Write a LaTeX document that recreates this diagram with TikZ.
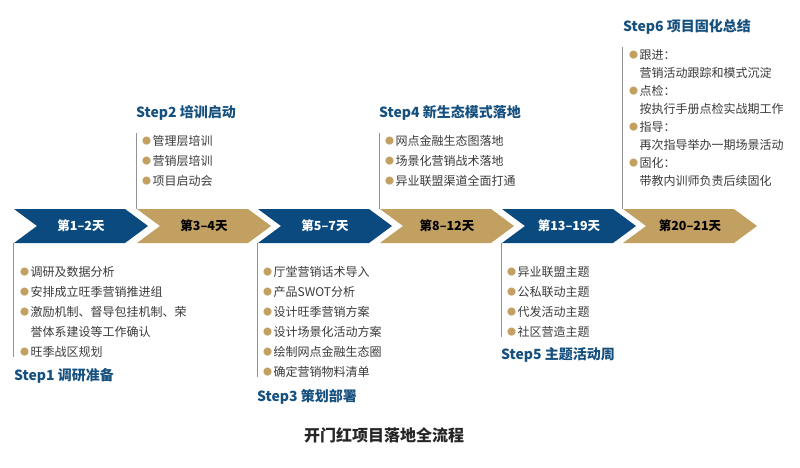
\documentclass[tikz,border=0pt]{standalone}
\usepackage{fontspec}
\setmainfont{Noto Sans CJK SC}
\usetikzlibrary{shapes.symbols}

\definecolor{navy}{HTML}{0B4A7E}
\definecolor{sand}{HTML}{C2A062}
\definecolor{ink}{HTML}{3A3A3A}
\definecolor{stepblue}{HTML}{16507F}

\newcommand{\gdot}{\raisebox{0.9pt}{\textcolor{sand}{\fontsize{9}{9}\selectfont ●}}\hspace{1.5pt}}
\newcommand{\gskip}{\hphantom{\gdot}}

\tikzset{
  day/.style={shape=signal, signal to=east, signal from=west, signal pointer angle=73,
    minimum width=134pt, minimum height=34pt, inner sep=0pt, font=\bfseries\fontsize{12.5}{14}\selectfont},
  dayblue/.style={day, fill=navy, text=white},
  daygold/.style={day, fill=sand, text=black},
  tasks/.style={anchor=north west, align=left, inner sep=0pt, text=ink, font=\fontsize{12}{20}\selectfont},
  steptitle/.style={anchor=west, inner sep=0pt, text=stepblue, font=\bfseries\fontsize{14}{16}\selectfont},
  stemline/.style={draw=gray!85, line width=1pt}
}

\begin{document}
\begin{tikzpicture}[x=1pt,y=-1pt]
    \useasboundingbox (0,0) rectangle (800,467);

    % timeline
    \node[dayblue] (d1) at (81,226) {第1--2天};
    \node[daygold] (d2) at (204,226) {第3--4天};
    \node[dayblue] (d3) at (325,226) {第5--7天};
    \node[daygold] (d4) at (447,226) {第8--12天};
    \node[dayblue] (d5) at (569,226) {第13--19天};
    \node[daygold] (d6) at (690,226) {第20--21天};

    % steps below
    \node[tasks] (l1) at (20,266) {\gdot 调研及数据分析\\ \gdot 安排成立旺季营销推进组\\ \gdot 激励机制、督导包挂机制、荣\\ \gskip 誉体系建设等工作确认\\ \gdot 旺季战区规划};
    \node[steptitle] (t1) at (14,376) {Step1 调研准备};

    \node[tasks] (l3) at (263,266) {\gdot 厅堂营销话术导入\\ \gdot 产品SWOT分析\\ \gdot 设计旺季营销方案\\ \gdot 设计场景化活动方案\\ \gdot 绘制网点金融生态圈\\ \gdot 确定营销物料清单};
    \node[steptitle] (t3) at (257,397) {Step3 策划部署};

    \node[tasks] (l5) at (507,266) {\gdot 异业联盟主题\\ \gdot 公私联动主题\\ \gdot 代发活动主题\\ \gdot 社区营造主题};
    \node[steptitle] (t5) at (501,355) {Step5 主题活动周};

    % steps above
    \node[tasks] (l2) at (142,135) {\gdot 管理层培训\\ \gdot 营销层培训\\ \gdot 项目启动会};
    \node[steptitle] (t2) at (136,113) {Step2 培训启动};

    \node[tasks] (l4) at (385,135) {\gdot 网点金融生态图落地\\ \gdot 场景化营销战术落地\\ \gdot 异业联盟渠道全面打通};
    \node[steptitle] (t4) at (379,113) {Step4 新生态模式落地};

    \node[tasks, font=\fontsize{12}{18}\selectfont] (l6) at (629,49) {\gdot 跟进：\\ \gskip 营销活动跟踪和模式沉淀\\ \gdot 点检：\\ \gskip 按执行手册点检实战期工作\\ \gdot 指导：\\ \gskip 再次指导举办一期场景活动\\ \gdot 固化：\\ \gskip 带教内训师负责后续固化};
    \node[steptitle] (t6) at (623,27) {Step6 项目固化总结};

    \draw[stemline] (d1.south west) -- (d1.south west |- l1.south);
    \draw[stemline] (d3.south west) -- (d3.south west |- l3.south);
    \draw[stemline] (d5.south west) -- (d5.south west |- l5.south);
    \draw[stemline] (d2.north west) -- ([yshift=2pt]d2.north west |- l2.north);
    \draw[stemline] (d4.north west) -- ([yshift=2pt]d4.north west |- l4.north);
    \draw[stemline] (d6.north west) -- ([yshift=2pt]d6.north west |- l6.north);

    \node[font=\bfseries\fontsize{16}{18}\selectfont, text=black!85] (cap) at (384,435) {开门红项目落地全流程};
\end{tikzpicture}
\end{document}
